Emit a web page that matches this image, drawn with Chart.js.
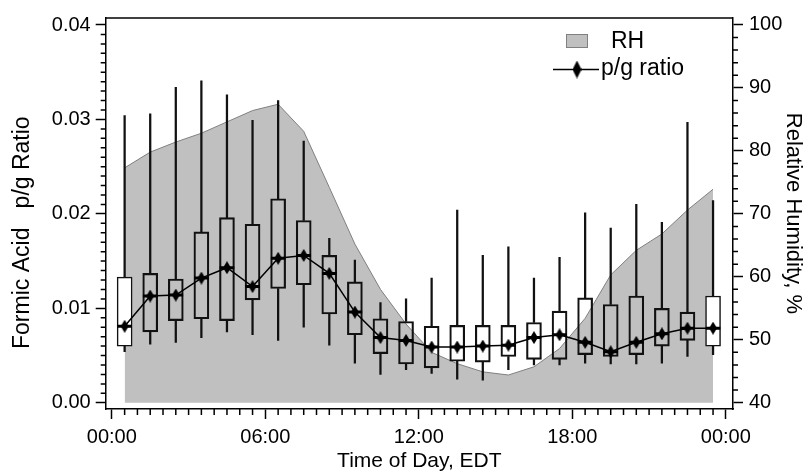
<!DOCTYPE html>
<html>
<head>
<meta charset="utf-8">
<script src="https://cdn.jsdelivr.net/npm/chart.js@4.4.0/dist/chart.umd.min.js"></script>
<style>
  html, body { margin: 0; padding: 0; background: #fff; }
  #wrap { width: 812px; height: 476px; }
</style>
</head>
<body>
<div id="wrap"><canvas id="c" width="812" height="476"></canvas></div>
<script>
// hourly bins (box centres, hours EDT)
const hours = [0.5, 1.5, 2.5, 3.5, 4.5, 5.5, 6.5, 7.5, 8.5, 9.5, 10.5, 11.5,
               12.5, 13.5, 14.5, 15.5, 16.5, 17.5, 18.5, 19.5, 20.5, 21.5, 22.5, 23.5];

// formic acid p/g ratio box stats
const whiskerLow  = [0.0054, 0.0062, 0.0064, 0.0069, 0.0075, 0.0072, 0.0066, 0.0080, 0.0061, 0.0042, 0.0030, 0.0035,
                     0.0031, 0.0025, 0.0024, 0.0035, 0.0040, 0.0040, 0.0042, 0.0041, 0.0041, 0.0042, 0.0049, 0.0051];
const q1          = [0.0060, 0.0075, 0.0087, 0.0089, 0.0087, 0.0109, 0.0121, 0.0125, 0.0094, 0.0072, 0.0052, 0.0041,
                     0.0037, 0.0044, 0.0043, 0.0049, 0.0046, 0.0046, 0.0051, 0.0049, 0.0051, 0.0060, 0.0066, 0.0060];
const median      = [0.0081, 0.0113, 0.0114, 0.0132, 0.0143, 0.0123, 0.0153, 0.0156, 0.0137, 0.0096, 0.0069, 0.0066,
                     0.0059, 0.0059, 0.0060, 0.0061, 0.0069, 0.0072, 0.0064, 0.0054, 0.0064, 0.0073, 0.0079, 0.0079];
const q3          = [0.0133, 0.0137, 0.0131, 0.0181, 0.0196, 0.0189, 0.0216, 0.0193, 0.0156, 0.0128, 0.0089, 0.0086,
                     0.0081, 0.0082, 0.0082, 0.0082, 0.0085, 0.0097, 0.0111, 0.0104, 0.0113, 0.0100, 0.0096, 0.0113];
const whiskerHigh = [0.0304, 0.0306, 0.0334, 0.0341, 0.0326, 0.0299, 0.0320, 0.0277, 0.0174, 0.0151, 0.0106, 0.0110,
                     0.0132, 0.0204, 0.0156, 0.0165, 0.0132, 0.0154, 0.0201, 0.0185, 0.0210, 0.0191, 0.0297, 0.0214];

// relative humidity, %
const rh = [77.3, 79.8, 81.4, 82.8, 84.6, 86.4, 87.4, 83.1, 74.2, 65.2, 58.0, 52.5,
            48.0, 46.2, 44.9, 44.4, 45.7, 48.6, 53.4, 60.3, 64.2, 66.8, 70.6, 73.9];

// axes
const xTicks = [0, 6, 12, 18, 24];
const xTickLabels = ['00:00', '06:00', '12:00', '18:00', '00:00'];
const yTicks = [0, 0.01, 0.02, 0.03, 0.04];
const rhTicks = [40, 50, 60, 70, 80, 90, 100];

const FONT = '"Liberation Sans", Arial, Helvetica, sans-serif';
const RH_FILL = '#c0c0c0';
const RH_LINE = '#808080';

// elongated diamond marker
function makeDiamond(w, h) {
    const c = document.createElement('canvas');
    c.width = w; c.height = h;
    const g = c.getContext('2d');
    g.fillStyle = '#000';
    g.beginPath();
    g.moveTo(w / 2, 0); g.lineTo(w, h / 2); g.lineTo(w / 2, h); g.lineTo(0, h / 2);
    g.closePath(); g.fill();
    return c;
}
const diamond = makeDiamond(8, 13);
const legendDiamond = makeDiamond(9, 18);

const pts = (ys) => hours.map((h, i) => ({ x: h, y: ys[i] }));
const range = (a, b) => hours.map((h, i) => ({ x: h, y: [a[i], b[i]] }));
// first and last boxes sit half outside the RH area, they are white in the original
const boxFill = hours.map((h, i) => (i === 0 || i === hours.length - 1) ? '#fff' : 'rgba(0,0,0,0)');

// minor ticks, top frame, legend
const decor = {
    id: 'decor',
    afterDraw(chart) {
        const { ctx, chartArea: a, scales } = chart;
        ctx.save();
        ctx.strokeStyle = '#000';
        ctx.lineWidth = 1.5;
        ctx.beginPath();
        ctx.moveTo(a.left, a.top); ctx.lineTo(a.right, a.top);
        ctx.stroke();

        ctx.beginPath();
        for (let k = 0; k <= 48; k++) {
            if (k % 12 === 0) continue;
            const px = scales.x.getPixelForValue(k * 0.5);
            ctx.moveTo(px, a.bottom); ctx.lineTo(px, a.bottom + 6);
        }
        for (let k = 0; k <= 40; k++) {
            if (k % 10 === 0) continue;
            const py = scales.y.getPixelForValue(k * 0.001);
            ctx.moveTo(a.left - 5, py); ctx.lineTo(a.left, py);
        }
        for (let v = 40; v <= 100; v += 2) {
            if (v % 10 === 0) continue;
            const py = scales.y2.getPixelForValue(v);
            ctx.moveTo(a.right, py); ctx.lineTo(a.right + 5, py);
        }
        ctx.stroke();

        // legend
        ctx.fillStyle = RH_FILL;
        ctx.fillRect(566, 34, 22, 14);
        ctx.strokeStyle = RH_LINE;
        ctx.lineWidth = 1;
        ctx.strokeRect(566.5, 34.5, 21, 13);
        ctx.strokeStyle = '#000';
        ctx.lineWidth = 1.5;
        ctx.beginPath();
        ctx.moveTo(553, 69.5); ctx.lineTo(599, 69.5);
        ctx.stroke();
        ctx.drawImage(legendDiamond, 577 - 4.5, 69.5 - 9);
        ctx.fillStyle = '#000';
        ctx.font = '23px ' + FONT;
        ctx.textBaseline = 'middle';
        ctx.textAlign = 'left';
        ctx.fillText('RH', 611, 42);
        ctx.fillText('p/g ratio', 601, 69);
        ctx.restore();
    }
};

const axisCommon = {
    offset: false,
    border: { color: '#000', width: 1.5 },
    grid: { drawOnChartArea: false, offset: false, tickLength: 10, tickColor: '#000', tickWidth: 1.5 },
    ticks: { color: '#000', font: { family: FONT, size: 20 } },
    title: { display: true, color: '#000', font: { family: FONT, size: 21 } }
};

new Chart(document.getElementById('c'), {
    type: 'bar',
    data: {
        datasets: [
            {
                type: 'line', label: 'RH', yAxisID: 'y2', order: 10,
                data: pts(rh), borderColor: RH_LINE, borderWidth: 1,
                backgroundColor: RH_FILL, fill: { value: 40 }, pointRadius: 0, tension: 0
            },
            {
                label: 'whisker low', yAxisID: 'y', order: 6, grouped: false,
                data: range(whiskerLow, q1), backgroundColor: '#111', barThickness: 1.6
            },
            {
                label: 'whisker high', yAxisID: 'y', order: 6, grouped: false,
                data: range(q3, whiskerHigh), backgroundColor: '#111', barThickness: 1.6
            },
            {
                label: 'box', yAxisID: 'y', order: 5, grouped: false,
                data: range(q1, q3), backgroundColor: boxFill, borderColor: '#111',
                borderWidth: 1.5, borderSkipped: false, barThickness: 15
            },
            {
                type: 'scatter', label: 'median bar', yAxisID: 'y', order: 4,
                data: pts(median), pointStyle: 'line', pointRadius: 7.3,
                pointBorderColor: '#000', pointBorderWidth: 3
            },
            {
                type: 'line', label: 'p/g ratio', yAxisID: 'y', order: 2,
                data: pts(median), borderColor: '#000', borderWidth: 1.5, tension: 0,
                pointStyle: diamond, pointRadius: 6, fill: false
            }
        ]
    },
    options: {
        responsive: false,
        animation: false,
        layout: { padding: { top: 15, left: 0, right: 0, bottom: 0 } },
        plugins: { legend: { display: false }, tooltip: { enabled: false } },
        scales: {
            x: {
                ...axisCommon, type: 'linear', position: 'bottom', min: -0.24, max: 24.28,
                afterBuildTicks: s => { s.ticks = xTicks.map(v => ({ value: v })); },
                afterFit: s => { s.height = 67; },
                ticks: { ...axisCommon.ticks, padding: 6, maxRotation: 0,
                         callback: (v) => xTickLabels[xTicks.indexOf(v)] },
                title: { ...axisCommon.title, text: 'Time of Day, EDT', padding: { top: 0, bottom: 2 } }
            },
            y: {
                ...axisCommon, type: 'linear', position: 'left', min: -0.00066, max: 0.04074,
                afterBuildTicks: s => { s.ticks = yTicks.map(v => ({ value: v })); },
                afterFit: s => { s.width = 105.7; },
                ticks: { ...axisCommon.ticks, padding: 5, callback: v => v.toFixed(2) },
                // trailing spaces push the label down a bit, like the original
                title: { ...axisCommon.title, text: 'Formic Acid   p/g Ratio      ', font: { family: FONT, size: 23 },
                         padding: { top: 9, bottom: 0 } }
            },
            y2: {
                ...axisCommon, type: 'linear', position: 'right', min: 39.0, max: 101.1,
                afterBuildTicks: s => { s.ticks = rhTicks.map(v => ({ value: v })); },
                afterFit: s => { s.width = 79; },
                ticks: { ...axisCommon.ticks, padding: 6, callback: v => String(v) },
                title: { ...axisCommon.title, text: 'Relative Humidity, %', font: { family: FONT, size: 22 },
                         padding: { top: 6, bottom: 0 } }
            }
        }
    },
    plugins: [decor]
});
</script>
</body>
</html>
